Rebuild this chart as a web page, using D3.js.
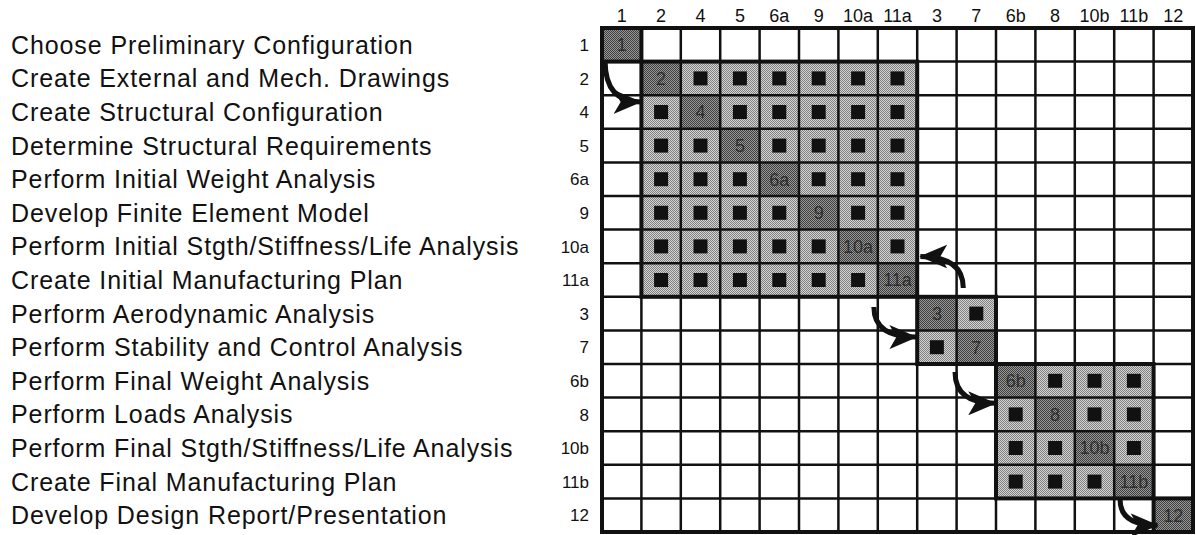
<!DOCTYPE html>
<html lang="en">

<head>
    <meta charset="utf-8">
    <style>
        body { margin: 0; background: #fff; }
        svg { display: block; }
        text { font-family: "Liberation Sans", Arial, Helvetica, sans-serif; }
    </style>
</head>

<body>
    <svg width="1196" height="535"></svg>
    <script src="https://cdn.jsdelivr.net/npm/d3@7/dist/d3.min.js"></script>
    <script type="text/javascript">
    //task names, in matrix order
    var tasks = [
        "Choose Preliminary Configuration",
        "Create External and Mech. Drawings",
        "Create Structural Configuration",
        "Determine Structural Requirements",
        "Perform Initial Weight Analysis",
        "Develop Finite Element Model",
        "Perform Initial Stgth/Stiffness/Life Analysis",
        "Create Initial Manufacturing Plan",
        "Perform Aerodynamic Analysis",
        "Perform Stability and Control Analysis",
        "Perform Final Weight Analysis",
        "Perform Loads Analysis",
        "Perform Final Stgth/Stiffness/Life Analysis",
        "Create Final Manufacturing Plan",
        "Develop Design Report/Presentation"
    ];

    //task ids (row and column labels)
    var ids = ["1", "2", "4", "5", "6a", "9", "10a", "11a", "3", "7", "6b", "8", "10b", "11b", "12"];

    //dependency marks: for each row, the columns with a mark
    var marks = [
        [],
        ["4", "5", "6a", "9", "10a", "11a"],
        ["2", "5", "6a", "9", "10a", "11a"],
        ["2", "4", "6a", "9", "10a", "11a"],
        ["2", "4", "5", "9", "10a", "11a"],
        ["2", "4", "5", "6a", "10a", "11a"],
        ["2", "4", "5", "6a", "9", "11a"],
        ["2", "4", "5", "6a", "9", "10a"],
        ["7"],
        ["3"],
        ["8", "10b", "11b"],
        ["6b", "10b", "11b"],
        ["6b", "8", "11b"],
        ["6b", "8", "10b"],
        []
    ];

    //coupled blocks: first and last id
    var blocks = [["1", "1"], ["2", "11a"], ["3", "7"], ["6b", "11b"], ["12", "12"]];

    //flow arrows in grid units [col, row] -> [col, row]
    var arrows = [
        [[0.08, 1.0], [0.98, 2.2]],
        [[6.9, 8.3], [7.98, 9.2]],
        [[9.17, 7.74], [8.08, 6.8]],
        [[8.96, 10.24], [9.98, 11.17]],
        [[13.15, 14.05], [14.1, 14.8]]
    ];

    var svg = d3.select("svg"),
        grid = { left: 602, top: 28, right: 1193, bottom: 532 };

    var x = d3.scaleBand().domain(ids).range([grid.left, grid.right]),
        y = d3.scaleBand().domain(ids).range([grid.top, grid.bottom]),
        gx = d3.scaleLinear().domain([0, ids.length]).range([grid.left, grid.right]),
        gy = d3.scaleLinear().domain([0, ids.length]).range([grid.top, grid.bottom]);

    var defs = svg.append("defs");

    //halftone look for the shaded cells
    function stipple(id, dark, light) {
        var p = defs.append("pattern")
            .attr("id", id)
            .attr("patternUnits", "userSpaceOnUse")
            .attr("width", 2).attr("height", 2);
        p.append("rect").attr("width", 2).attr("height", 2).attr("fill", light);
        p.append("rect").attr("width", 1).attr("height", 1).attr("fill", dark);
        p.append("rect").attr("x", 1).attr("y", 1).attr("width", 1).attr("height", 1).attr("fill", dark);
    }
    stipple("diag", "#3e3e3e", "#989898");
    stipple("offdiag", "#808080", "#d4d4d4");

    defs.append("marker")
        .attr("id", "head")
        .attr("markerUnits", "userSpaceOnUse")
        .attr("viewBox", "0 0 28 24")
        .attr("markerWidth", 28)
        .attr("markerHeight", 24)
        .attr("refX", 27)
        .attr("refY", 12)
        .attr("orient", "auto")
        .append("path")
        .attr("d", "M0,0 L28,12 L0,24 L7,12 Z")
        .attr("fill", "#111");

    //which block a task sits in
    function blockOf(id) {
        var i = ids.indexOf(id);
        for (var b = 0; b < blocks.length; b++) {
            if (i >= ids.indexOf(blocks[b][0]) && i <= ids.indexOf(blocks[b][1])) return b;
        }
        return -1;
    }

    //cells
    var cells = [];
    ids.forEach(function(r) {
        ids.forEach(function(c) {
            var type = "empty";
            if (r === c) type = "diag";
            else if (blockOf(r) === blockOf(c)) type = "offdiag";
            cells.push({ row: r, col: c, type: type });
        });
    });

    svg.append("g").selectAll("rect")
        .data(cells)
        .enter().append("rect")
        .attr("x", function(d) { return x(d.col); })
        .attr("y", function(d) { return y(d.row); })
        .attr("width", x.bandwidth())
        .attr("height", y.bandwidth())
        .attr("fill", function(d) {
            return d.type === "empty" ? "#fff" : "url(#" + d.type + ")";
        });

    //grid lines
    var lines = svg.append("g").attr("stroke", "#111").attr("stroke-width", 2.5);
    d3.range(1, ids.length).forEach(function(i) {
        lines.append("line").attr("x1", gx(i)).attr("x2", gx(i)).attr("y1", gy(0)).attr("y2", gy(ids.length));
        lines.append("line").attr("y1", gy(i)).attr("y2", gy(i)).attr("x1", gx(0)).attr("x2", gx(ids.length));
    });

    //marks
    var markData = [];
    marks.forEach(function(cols, i) {
        cols.forEach(function(c) { markData.push({ row: ids[i], col: c }); });
    });
    var ms = 14;
    svg.append("g").selectAll("rect")
        .data(markData)
        .enter().append("rect")
        .attr("x", function(d) { return x(d.col) + x.bandwidth() / 2 - ms / 2; })
        .attr("y", function(d) { return y(d.row) + y.bandwidth() / 2 - ms / 2; })
        .attr("width", ms)
        .attr("height", ms)
        .attr("fill", "#111");

    //diagonal labels
    svg.append("g").selectAll("text")
        .data(ids)
        .enter().append("text")
        .attr("x", function(d) { return x(d) + x.bandwidth() / 2; })
        .attr("y", function(d) { return y(d) + y.bandwidth() / 2; })
        .attr("dy", "0.36em")
        .attr("text-anchor", "middle")
        .attr("font-size", 18)
        .attr("fill", "#2e2e2e")
        .text(function(d) { return d; });

    //block outlines
    svg.append("g").selectAll("rect")
        .data(blocks)
        .enter().append("rect")
        .attr("x", function(d) { return x(d[0]); })
        .attr("y", function(d) { return y(d[0]); })
        .attr("width", function(d) { return x(d[1]) + x.bandwidth() - x(d[0]); })
        .attr("height", function(d) { return y(d[1]) + y.bandwidth() - y(d[0]); })
        .attr("fill", "none")
        .attr("stroke", "#111")
        .attr("stroke-width", 4);

    //outer frame
    svg.append("rect")
        .attr("x", grid.left).attr("y", grid.top)
        .attr("width", grid.right - grid.left).attr("height", grid.bottom - grid.top)
        .attr("fill", "none").attr("stroke", "#111").attr("stroke-width", 4);

    //arrows
    svg.append("g").selectAll("path")
        .data(arrows)
        .enter().append("path")
        .attr("d", function(d) {
            var x0 = gx(d[0][0]), y0 = gy(d[0][1]), x1 = gx(d[1][0]), y1 = gy(d[1][1]);
            return "M" + x0 + "," + y0 + " Q" + x0 + "," + y1 + " " + x1 + "," + y1;
        })
        .attr("fill", "none")
        .attr("stroke", "#111")
        .attr("stroke-width", 5)
        .attr("marker-end", "url(#head)");

    //column labels
    svg.append("g").selectAll("text")
        .data(ids)
        .enter().append("text")
        .attr("x", function(d) { return x(d) + x.bandwidth() / 2; })
        .attr("y", 22)
        .attr("text-anchor", "middle")
        .attr("font-size", 18)
        .attr("fill", "#111")
        .text(function(d) { return d; });

    //row labels
    svg.append("g").selectAll("text")
        .data(ids)
        .enter().append("text")
        .attr("x", 589)
        .attr("y", function(d) { return y(d) + y.bandwidth() / 2; })
        .attr("dy", "0.36em")
        .attr("text-anchor", "end")
        .attr("font-size", 17)
        .attr("fill", "#111")
        .text(function(d) { return d; });

    //task names
    svg.append("g").selectAll("text")
        .data(tasks)
        .enter().append("text")
        .attr("x", 11)
        .attr("y", function(d, i) { return y(ids[i]) + y.bandwidth() / 2; })
        .attr("dy", "0.36em")
        .attr("font-size", 25)
        .attr("letter-spacing", 0.9)
        .attr("fill", "#111")
        .text(function(d) { return d; });
    </script>
</body>

</html>
